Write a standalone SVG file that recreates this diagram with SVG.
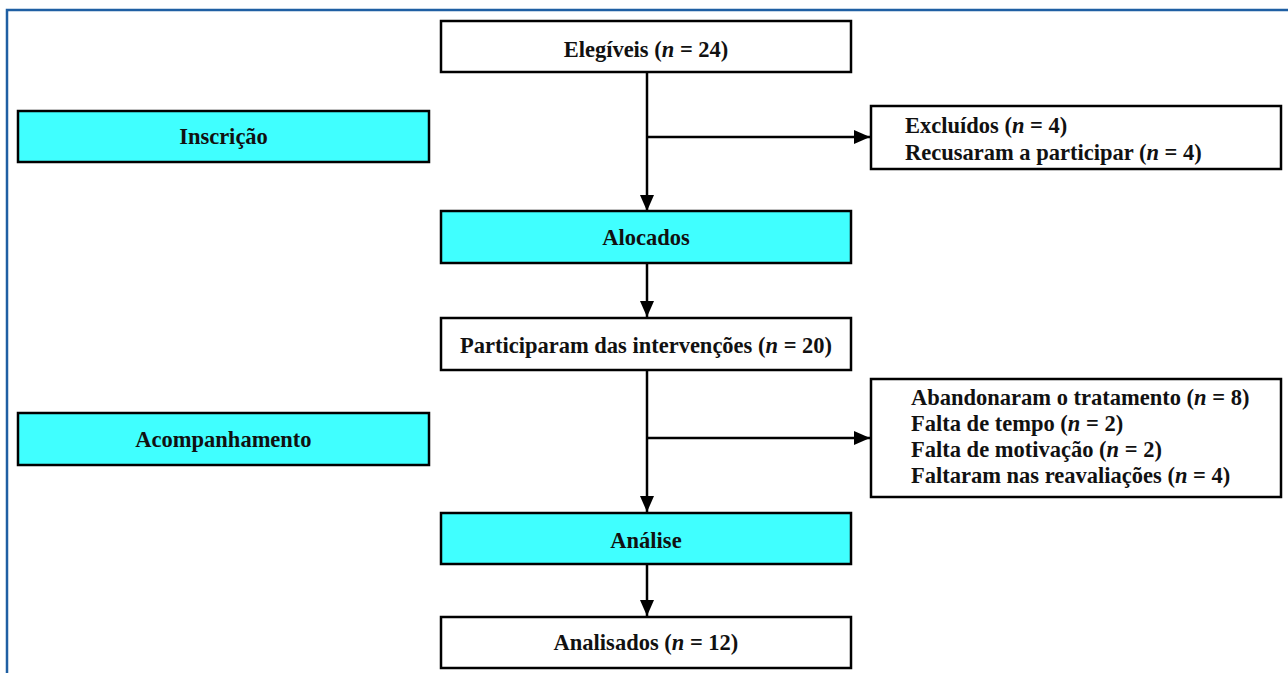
<svg xmlns="http://www.w3.org/2000/svg" width="1288" height="673" viewBox="0 0 1288 673">
<defs>
<style>
.box{fill:#ffffff;stroke:#000;stroke-width:2.5}
.hl{fill:#40ffff;stroke:#000;stroke-width:2.5}
.t{font-family:"Liberation Serif","Times New Roman",serif;font-weight:bold;font-size:22.5px;fill:#111}
.c{text-anchor:middle}
.ln{stroke:#000;stroke-width:2.5;fill:none}
</style>
<marker id="ah" markerWidth="16" markerHeight="14" refX="16" refY="7" orient="auto" markerUnits="userSpaceOnUse">
<path d="M0,0 L16,7 L0,14 Z" fill="#000"/>
</marker>
</defs>
<rect width="1288" height="673" fill="#fff"/>
<path d="M7,673 V10 H1288" fill="none" stroke="#1f5fa3" stroke-width="2.5"/>

<g id="connectors">
<line class="ln" x1="647" y1="72" x2="647" y2="211" marker-end="url(#ah)"/>
<line class="ln" x1="647" y1="137" x2="870" y2="137" marker-end="url(#ah)"/>
<line class="ln" x1="647" y1="263" x2="647" y2="317" marker-end="url(#ah)"/>
<line class="ln" x1="647" y1="370" x2="647" y2="512" marker-end="url(#ah)"/>
<line class="ln" x1="647" y1="438" x2="870" y2="438" marker-end="url(#ah)"/>
<line class="ln" x1="647" y1="564" x2="647" y2="616" marker-end="url(#ah)"/>
</g>

<g id="inscricao">
<rect class="hl" x="18" y="111" width="411" height="51"/>
<text class="t c" x="223.5" y="144">Inscrição</text>
</g>
<g id="acompanhamento">
<rect class="hl" x="18" y="413" width="411" height="52"/>
<text class="t c" x="223.5" y="447">Acompanhamento</text>
</g>

<g id="elegiveis">
<rect class="box" x="441" y="21" width="410" height="51"/>
<text class="t c" x="646" y="57">Elegíveis (<tspan font-style="italic">n</tspan> = 24)</text>
</g>
<g id="excluidos">
<rect class="box" x="871" y="106" width="410" height="63"/>
<text class="t" x="905" y="133">Excluídos (<tspan font-style="italic">n</tspan> = 4)</text>
<text class="t" x="905" y="160">Recusaram a participar (<tspan font-style="italic">n</tspan> = 4)</text>
</g>
<g id="alocados">
<rect class="box hl" x="441" y="211" width="410" height="52"/>
<text class="t c" x="646" y="245">Alocados</text>
</g>
<g id="participaram">
<rect class="box" x="441" y="318" width="410" height="52"/>
<text class="t c" x="646" y="353">Participaram das intervenções (<tspan font-style="italic">n</tspan> = 20)</text>
</g>
<g id="abandonaram">
<rect class="box" x="871" y="379" width="410" height="118"/>
<text class="t" x="911" y="405">Abandonaram o tratamento (<tspan font-style="italic">n</tspan> = 8)</text>
<text class="t" x="911" y="431">Falta de tempo (<tspan font-style="italic">n</tspan> = 2)</text>
<text class="t" x="911" y="457">Falta de motivação (<tspan font-style="italic">n</tspan> = 2)</text>
<text class="t" x="911" y="483">Faltaram nas reavaliações (<tspan font-style="italic">n</tspan> = 4)</text>
</g>
<g id="analise">
<rect class="hl" x="441" y="513" width="410" height="51"/>
<text class="t c" x="646" y="548">Análise</text>
</g>
<g id="analisados">
<rect class="box" x="441" y="617" width="410" height="51"/>
<text class="t c" x="646" y="650">Analisados (<tspan font-style="italic">n</tspan> = 12)</text>
</g>
</svg>
